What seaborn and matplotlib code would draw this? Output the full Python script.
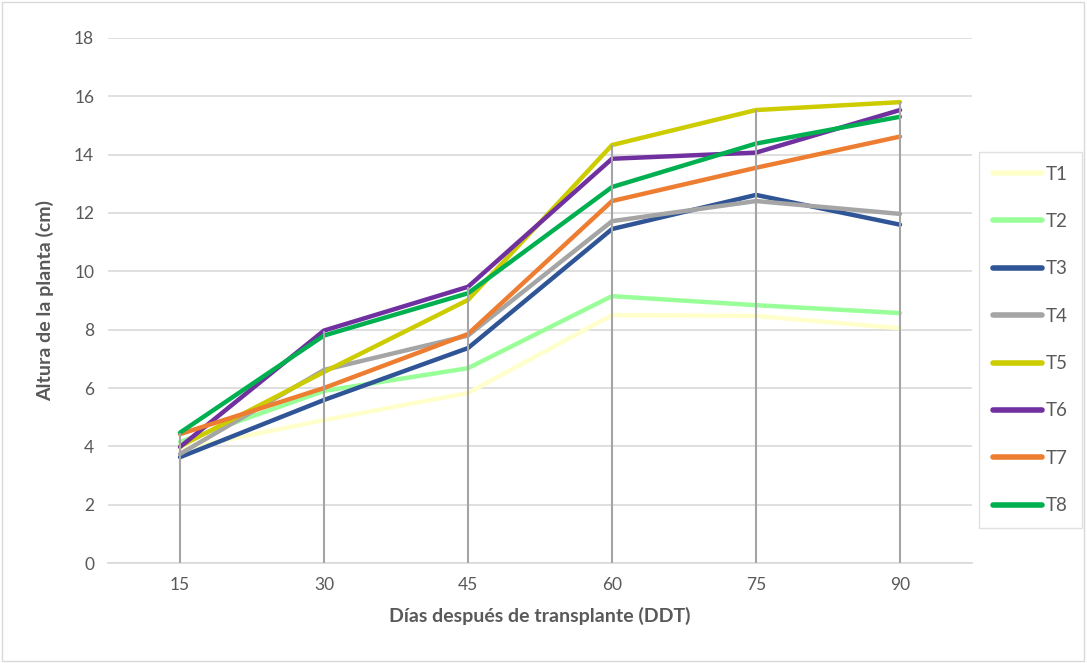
import numpy as np
import matplotlib
matplotlib.use("Agg")
import matplotlib.pyplot as plt
import seaborn as sns
import pandas as pd

# data
dias = [15, 30, 45, 60, 75, 90]
T1 = [3.90, 4.90, 5.83, 8.50, 8.47, 8.05]
T2 = [4.15, 5.90, 6.68, 9.15, 8.84, 8.57]
T3 = [3.63, 5.59, 7.37, 11.45, 12.62, 11.60]
T4 = [3.74, 6.62, 7.80, 11.72, 12.41, 11.97]
T5 = [4.00, 6.55, 9.02, 14.33, 15.53, 15.80]
T6 = [3.98, 7.97, 9.47, 13.86, 14.07, 15.53]
T7 = [4.42, 6.00, 7.85, 12.41, 13.55, 14.62]
T8 = [4.47, 7.80, 9.25, 12.89, 14.38, 15.30]

series = {"T1": T1, "T2": T2, "T3": T3, "T4": T4,
          "T5": T5, "T6": T6, "T7": T7, "T8": T8}
colores = ["#FFFFCC", "#99FF99", "#2F5597", "#A5A5A5",
           "#CCCC00", "#7030A0", "#ED7D31", "#00B050"]

rows = []
for name, vals in series.items():
    for d, v in zip(dias, vals):
        rows.append([name, d, v])
df = pd.DataFrame(rows, columns=["trat", "dia", "altura"])

sns.set_style("white")
plt.rcParams["font.family"] = ["Lato", "DejaVu Sans"]
txt = "#595959"

fig = plt.figure(figsize=(10.87, 6.63), dpi=100)
ax = fig.add_axes([0.0994, 0.1508, 0.7948, 0.7919])

sns.lineplot(data=df, x="dia", y="altura", hue="trat", palette=colores,
             linewidth=3.2, ax=ax, solid_capstyle="round", zorder=3)

# drop lines from the highest series down to the axis
tops = df.groupby("dia")["altura"].max()
ax.vlines(tops.index, 0, tops.values, color="#A5A5A5", linewidth=1.5, zorder=4)

ax.set_xlim(7.5, 97.5)
ax.set_ylim(0, 18)
ax.set_xticks(dias)
ax.set_yticks(range(0, 19, 2))
ax.yaxis.grid(True, color="#D9D9D9", linewidth=1.2)
ax.xaxis.grid(False)
ax.set_axisbelow(True)
for s in ["top", "right", "left"]:
    ax.spines[s].set_visible(False)
ax.spines["bottom"].set_color("#D9D9D9")
ax.spines["bottom"].set_linewidth(1.2)
ax.tick_params(axis="both", length=0, labelsize=12.5, colors=txt, pad=10)

ax.set_xlabel("Días después de transplante (DDT)", fontsize=14,
              fontweight="bold", color=txt, labelpad=10)
ax.set_ylabel("Altura de la planta (cm)", fontsize=14,
              fontweight="bold", color=txt, labelpad=14)

leg = ax.legend(loc="center left", bbox_to_anchor=(1.002, 0.425),
                frameon=True, fontsize=13.5, handlelength=2.6,
                labelspacing=1.62, borderpad=0.75, borderaxespad=0.3,
                handletextpad=0.2, fancybox=False)
leg.get_frame().set_edgecolor("#D9D9D9")
leg.get_frame().set_linewidth(1.0)
for t in leg.get_texts():
    t.set_color(txt)
for h in leg.get_lines():
    h.set_linewidth(4.0)
    h.set_solid_capstyle("round")

# outer chart border
fig.patches.append(plt.Rectangle((0.002, 0.003), 0.995, 0.994,
                                 transform=fig.transFigure, fill=False,
                                 edgecolor="#D9D9D9", linewidth=1.0))

fig.savefig("out.png", dpi=100)
